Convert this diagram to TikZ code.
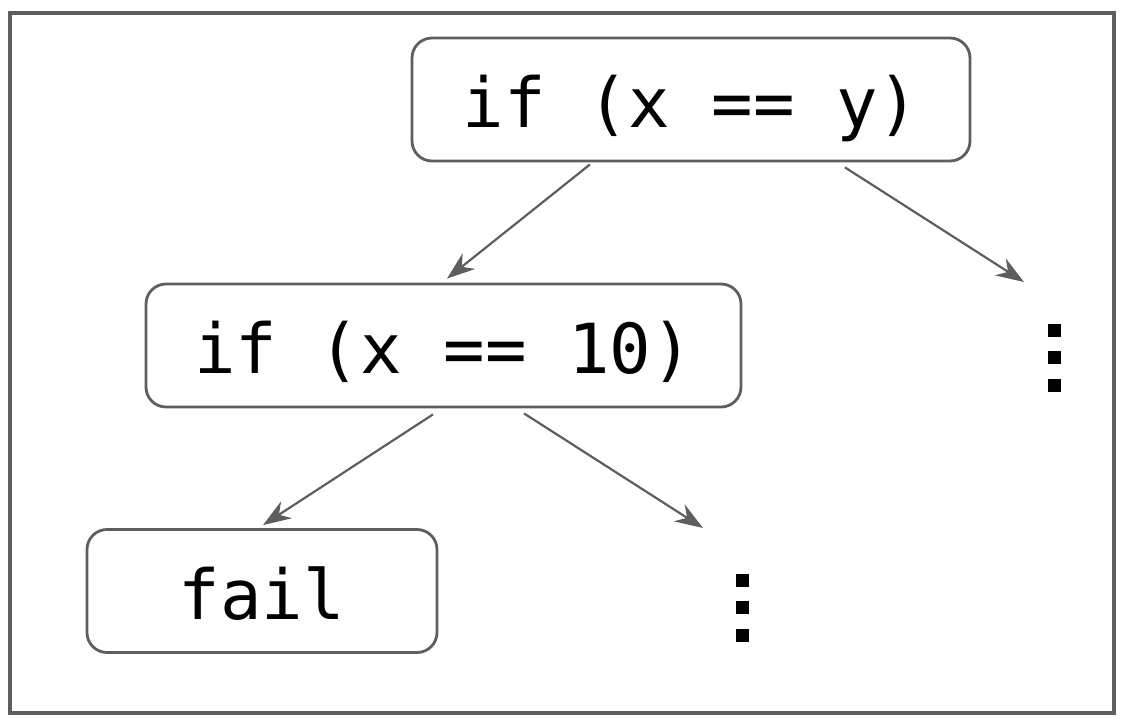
\documentclass[tikz,border=0pt]{standalone}
\usepackage{fontspec}
\setmonofont{DejaVu Sans Mono}
\usetikzlibrary{calc,arrows.meta}
\definecolor{linegray}{HTML}{5E5E5E}
\tikzset{>={Stealth[length=14pt,width=10pt]}}
\tikzset{
  codebox/.style={draw=linegray, line width=1.4pt, rounded corners=10pt, inner sep=0pt,
    minimum height=61.5pt, font=\ttfamily\fontsize{34.5}{38}\selectfont,
    text height=32pt, text depth=4pt},
  edge/.style={->, draw=linegray, line width=1.1pt}
}

\begin{document}
\begin{tikzpicture}[x=0.5pt,y=-0.5pt]
        \useasboundingbox (0,0) rectangle (1126,724);
        \draw[linegray, line width=2pt] (10,13) rectangle (1114,713);

        \node[codebox, minimum width=279pt] at (691,99.5)   (top)  {if (x == y)};
        \node[codebox, minimum width=297.5pt] at (443.5,345.5) (mid)  {if (x == 10)};
        \node[codebox, minimum width=175pt] at (262,591)   (fail) {fail};

        % dots for the branches that are left out
        \coordinate (rdots) at (1054.5,357.5);
        \coordinate (ldots) at (742.5,607.5);
        \foreach \dy in {-27.5,0,27.5}{
            \fill[black] ($(rdots)+(-6.5,\dy-6.5)$) rectangle ++(13,13);
            \fill[black] ($(ldots)+(-6.5,\dy-6.5)$) rectangle ++(13,13);
        }
        \coordinate (rtip) at (1024,282);
        \coordinate (ltip) at (703,528);

        \draw[edge] ($(top.south)+(-101,2)$) -- ($(mid.north)+(3.5,-4)$);
        \draw[edge] ($(top.south)+(154,5)$) -- (rtip);
        \draw[edge] ($(mid.south)+(-10.5,6)$) -- ($(fail.north)+(1,-3)$);
        \draw[edge] ($(mid.south)+(80.5,5)$) -- (ltip);
\end{tikzpicture}
\end{document}
